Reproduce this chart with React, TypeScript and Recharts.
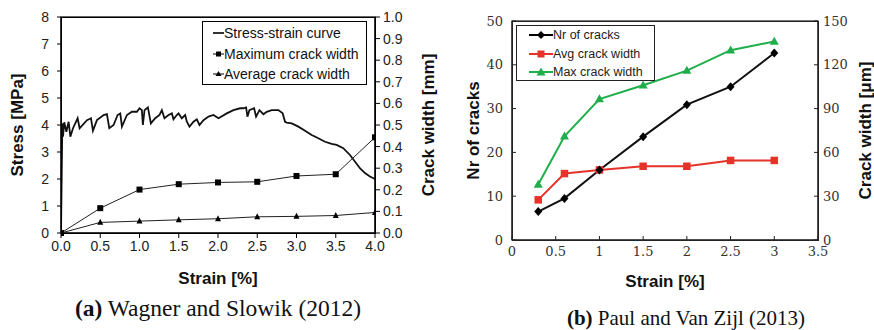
import * as R from "recharts";
import { Legend, Line, LineChart, XAxis, YAxis } from "recharts";

// (a) Wagner and Slowik (2012) - stress-strain curve
const curveStrain = [
  0, 0.017, 0.025, 0.042, 0.068, 0.097, 0.119, 0.153, 0.212, 0.237, 0.331, 0.382, 0.407, 0.458,
  0.543, 0.585, 0.615, 0.67, 0.721, 0.755, 0.776, 0.84, 0.903, 0.967, 1.0, 1.03, 1.043, 1.064,
  1.107, 1.145, 1.2, 1.255, 1.285, 1.318, 1.37, 1.412, 1.433, 1.475, 1.497, 1.539, 1.582, 1.603,
  1.637, 1.688, 1.73, 1.764, 1.815, 1.879, 1.942, 2.006, 2.112, 2.197, 2.282, 2.324, 2.358, 2.375,
  2.4, 2.46, 2.485, 2.528, 2.579, 2.621, 2.684, 2.769, 2.824, 2.854, 2.875, 2.939, 3.024, 3.109,
  3.193, 3.278, 3.363, 3.448, 3.511, 3.596, 3.681, 3.744, 3.808, 3.872, 3.935, 4.0,
];
const curveStress = [
  0, 4.06, 3.57, 4.1, 3.75, 4.12, 3.57, 3.88, 4.25, 3.88, 4.18, 4.25, 3.79, 4.18,
  4.37, 4.4, 3.88, 4.0, 4.37, 4.43, 3.94, 4.37, 4.49, 4.49, 4.62, 4.55, 4.0, 4.55,
  4.65, 4.06, 4.25, 4.37, 4.55, 4.25, 4.37, 4.43, 4.21, 4.37, 4.43, 4.25, 4.37, 4.12,
  3.94, 4.12, 4.21, 4.0, 4.18, 4.31, 4.37, 4.25, 4.43, 4.55, 4.62, 4.62, 4.65, 4.31,
  4.55, 4.62, 4.31, 4.55, 4.4, 4.49, 4.55, 4.55, 4.43, 4.12, 4.09, 4.06, 3.94, 3.79,
  3.63, 3.51, 3.38, 3.3, 3.26, 3.14, 2.89, 2.65, 2.4, 2.22, 2.09, 2.0,
];
const crackStrainA = [0, 0.5, 1, 1.5, 2, 2.5, 3, 3.5, 4];
const maxCrackA = [0, 0.115, 0.201, 0.226, 0.234, 0.237, 0.264, 0.272, 0.443];
const avgCrackA = [0, 0.049, 0.055, 0.061, 0.066, 0.075, 0.077, 0.081, 0.095];
const ticksStrainA = [0, 0.5, 1, 1.5, 2, 2.5, 3, 3.5, 4];
const ticksStress = [0, 1, 2, 3, 4, 5, 6, 7, 8];
const ticksCrackA = [0, 0.1, 0.2, 0.3, 0.4, 0.5, 0.6, 0.7, 0.8, 0.9, 1.0];

// (b) Paul and Van Zijl (2013)
const strainB = [0.3, 0.6, 1, 1.5, 2, 2.5, 3];
const nrCracksB = [6.5, 9.5, 16, 23.6, 30.9, 35, 42.7];
const avgCrackB = [27.5, 45.5, 48, 50.5, 50.5, 54.5, 54.5];
const maxCrackB = [38, 71, 96.5, 106, 116, 130, 136];
const ticksStrainB = [0, 0.5, 1, 1.5, 2, 2.5, 3, 3.5];
const ticksNr = [0, 10, 20, 30, 40, 50];
const ticksCrackB = [0, 30, 60, 90, 120, 150];

const curveData = curveStrain.map((x, i) => ({ x, stress: curveStress[i] }));
const crackDataA = crackStrainA.map((x, i) => ({ x, max: maxCrackA[i], avg: avgCrackA[i] }));
const dataB = strainB.map((x, i) => ({
  x,
  nr: nrCracksB[i],
  avg: avgCrackB[i],
  max: maxCrackB[i],
}));

const RED = "#e5332a";
const GREEN = "#1fae4a";
const SANS = "'Liberation Sans', Arial, sans-serif";
const SERIF = "'DejaVu Serif', serif";

const square = (size: number, color: string) => (p: any) => {
  if (p.cx == null) return <g key={p.key} />;
  return (
    <rect key={p.key} x={p.cx - size / 2} y={p.cy - size / 2} width={size} height={size} fill={color} />
  );
};
const triangle = (w: number, h: number, color: string) => (p: any) => {
  if (p.cx == null) return <g key={p.key} />;
  const { cx, cy } = p;
  return (
    <polygon
      key={p.key}
      points={`${cx},${cy - h * 0.6} ${cx + w / 2},${cy + h * 0.4} ${cx - w / 2},${cy + h * 0.4}`}
      fill={color}
    />
  );
};
const diamond = (w: number, h: number, color: string) => (p: any) => {
  if (p.cx == null) return <g key={p.key} />;
  const { cx, cy } = p;
  return (
    <polygon
      key={p.key}
      points={`${cx},${cy - h / 2} ${cx + w / 2},${cy} ${cx},${cy + h / 2} ${cx - w / 2},${cy}`}
      fill={color}
    />
  );
};

// plot-area frame, sized from the chart's own layout
const usePlot: () => any = (R as any).usePlotArea || (R as any).useOffset || (() => null);
function Frame({ stroke }: { stroke: string }) {
  const pa = usePlot();
  if (!pa) return null;
  const x = pa.x ?? pa.left;
  const y = pa.y ?? pa.top;
  return <rect x={x} y={y} width={pa.width} height={pa.height} fill="none" stroke={stroke} strokeWidth={1.2} />;
}

// rotated axis title at an absolute x, centred on the axis
const yTitle = (text: string, x: number) => (p: any) => {
  const vb = p.viewBox || {};
  const cy = vb.y + vb.height / 2;
  return (
    <text
      x={x}
      y={cy}
      transform={`rotate(-90 ${x} ${cy})`}
      textAnchor="middle"
      dominantBaseline="central"
      fontFamily={SANS}
      fontWeight="bold"
      fontSize={17}
      fill="#111"
    >
      {text}
    </text>
  );
};
const xTitle = (text: string, y: number) => (p: any) => {
  const vb = p.viewBox || {};
  return (
    <text
      x={vb.x + vb.width / 2}
      y={y}
      textAnchor="middle"
      dominantBaseline="central"
      fontFamily={SANS}
      fontWeight="bold"
      fontSize={17}
      fill="#111"
    >
      {text}
    </text>
  );
};

const LegendSample = ({ width, marker }: { width: number; marker: React.ReactNode }) => (
  <svg width={width} height={12} style={{ display: "block", flex: "none" }}>
    {marker}
  </svg>
);

const legendA = () => (
  <div
    style={{
      border: "1px solid #000",
      background: "#fff",
      boxSizing: "border-box",
      width: 165,
      height: 64,
      paddingTop: 1,
      paddingLeft: 10,
      fontFamily: SANS,
      fontSize: 14,
      color: "#111",
    }}
  >
    {[
      { label: "Stress-strain curve", m: null },
      { label: "Maximum crack width", m: <rect x={3} y={3.5} width={5} height={5} fill="#000" /> },
      { label: "Average crack width", m: <polygon points="5.5,3 8.5,8 2.5,8" fill="#000" /> },
    ].map((r) => (
      <div key={r.label} style={{ display: "flex", alignItems: "center", height: 20.5 }}>
        <LegendSample
          width={11}
          marker={
            <>
              <line x1={0} x2={11} y1={6} y2={6} stroke="#000" strokeWidth={r.m ? 1 : 1.6} />
              {r.m}
            </>
          }
        />
        <span style={{ whiteSpace: "nowrap" }}>{r.label}</span>
      </div>
    ))}
  </div>
);

const legendB = () => (
  <div
    style={{
      border: "1px solid #222",
      background: "#fff",
      boxSizing: "border-box",
      width: 139,
      height: 56,
      paddingLeft: 12,
      fontFamily: SANS,
      fontSize: 12.5,
      color: "#222",
    }}
  >
    {[
      { label: "Nr of cracks", c: "#000", m: <polygon points="12,2 16,6 12,10 8,6" fill="#000" /> },
      { label: "Avg crack width", c: RED, m: <rect x={8.5} y={2.5} width={7} height={7} fill={RED} /> },
      { label: "Max crack width", c: GREEN, m: <polygon points="12,1.5 16.5,9.5 7.5,9.5" fill={GREEN} /> },
    ].map((r) => (
      <div key={r.label} style={{ display: "flex", alignItems: "center", height: 18.6 }}>
        <LegendSample
          width={24}
          marker={
            <>
              <line x1={0} x2={24} y1={6} y2={6} stroke={r.c} strokeWidth={2} />
              {r.m}
            </>
          }
        />
        <span style={{ whiteSpace: "nowrap" }}>{r.label}</span>
      </div>
    ))}
  </div>
);

function ChartA() {
  const tickA = { fontFamily: SANS, fontSize: 14, fill: "#222" };
  return (
    <LineChart width={440} height={295} margin={{ top: 17, right: 0, bottom: 0, left: 21 }}>
      <XAxis
        dataKey="x"
        type="number"
        domain={[0, 4]}
        ticks={ticksStrainA}
        tickFormatter={(v) => v.toFixed(1)}
        tick={tickA}
        tickSize={5}
        tickMargin={3}
        height={62}
        stroke="#000"
        allowDataOverflow
        label={xTitle("Strain [%]", 278)}
      />
      <YAxis
        yAxisId="stress"
        domain={[0, 8]}
        ticks={ticksStress}
        tick={tickA}
        tickSize={4}
        tickMargin={8}
        width={40}
        stroke="#000"
        label={yTitle("Stress [MPa]", 17)}
      />
      <YAxis
        yAxisId="crack"
        orientation="right"
        domain={[0, 1]}
        ticks={ticksCrackA}
        tickFormatter={(v) => v.toFixed(1)}
        tick={tickA}
        tickSize={5}
        tickMargin={3}
        width={65}
        stroke="#000"
        label={yTitle("Crack width [mm]", 428)}
      />
      <Frame stroke="#000" />
      <Legend
        layout="horizontal"
        verticalAlign="middle"
        align="center"
        wrapperStyle={{ left: 202, top: 21, width: 165, height: 64 }}
        content={legendA}
      />
      <Line
        data={curveData}
        yAxisId="stress"
        dataKey="stress"
        stroke="#111"
        strokeWidth={1.8}
        dot={false}
        isAnimationActive={false}
      />
      <Line
        data={crackDataA}
        yAxisId="crack"
        dataKey="max"
        stroke="#222"
        strokeWidth={1}
        dot={square(6, "#000")}
        isAnimationActive={false}
      />
      <Line
        data={crackDataA}
        yAxisId="crack"
        dataKey="avg"
        stroke="#222"
        strokeWidth={1}
        dot={triangle(6, 6, "#000")}
        isAnimationActive={false}
      />
    </LineChart>
  );
}

function ChartB() {
  const tickB = { fontFamily: SERIF, fontSize: 13, fill: "#333" };
  return (
    <LineChart width={434} height={290} data={dataB} margin={{ top: 21, right: 0, bottom: 0, left: 22 }}>
      <XAxis
        dataKey="x"
        type="number"
        domain={[0, 3.5]}
        ticks={ticksStrainB}
        tick={tickB}
        tickSize={-4}
        tickMargin={11}
        height={50}
        stroke="#222"
        label={xTitle("Strain [%]", 281)}
      />
      <YAxis
        yAxisId="nr"
        domain={[0, 50]}
        ticks={ticksNr}
        tick={tickB}
        tickSize={-4}
        tickMargin={13}
        width={50}
        stroke="#222"
        label={yTitle("Nr of cracks", 33)}
      />
      <YAxis
        yAxisId="width"
        orientation="right"
        domain={[0, 150]}
        ticks={ticksCrackB}
        tick={tickB}
        tickSize={-4}
        tickMargin={9}
        width={56}
        stroke="#222"
        label={yTitle("Crack width [\u03bcm]", 425)}
      />
      <Frame stroke="#222" />
      <Legend
        layout="horizontal"
        verticalAlign="middle"
        align="center"
        wrapperStyle={{ left: 76, top: 25, width: 139, height: 56 }}
        content={legendB}
      />
      <Line
        yAxisId="width"
        dataKey="max"
        stroke={GREEN}
        strokeWidth={2}
        dot={triangle(9, 8, GREEN)}
        isAnimationActive={false}
      />
      <Line
        yAxisId="width"
        dataKey="avg"
        stroke={RED}
        strokeWidth={2}
        dot={square(7.5, RED)}
        isAnimationActive={false}
      />
      <Line
        yAxisId="nr"
        dataKey="nr"
        stroke="#111"
        strokeWidth={2}
        dot={diamond(8, 9, "#000")}
        isAnimationActive={false}
      />
    </LineChart>
  );
}

// border boxes over the two plot areas (same box as the chart margins + axis widths above)
const frameBox = (left: number, top: number, width: number, height: number, color: string) => (
  <div
    style={{
      position: "absolute",
      left,
      top,
      width,
      height,
      boxSizing: "border-box",
      border: `1px solid ${color}`,
      pointerEvents: "none",
    }}
  />
);

export default function App() {
  const caption = { fontFamily: "'Liberation Serif', 'Times New Roman', serif", color: "#111" };
  return (
    <div style={{ position: "absolute", left: 0, top: 0, width: 874, height: 330, background: "#fff" }}>
      <div style={{ position: "absolute", left: 0, top: 0 }}>
        <ChartA />
      </div>
      <div style={{ position: "absolute", left: 440, top: 0 }}>
        <ChartB />
      </div>
      {frameBox(60.5, 16.5, 315, 217, "#000")}
      {frameBox(511.5, 20.5, 307, 220, "#222")}
      <div style={{ ...caption, fontSize: 23.5, position: "absolute", left: 18, width: 400, top: 295, textAlign: "center" }}>
        <b>(a)</b> Wagner and Slowik (2012)
      </div>
      <div style={{ ...caption, fontSize: 21, position: "absolute", left: 486, width: 400, top: 306, textAlign: "center" }}>
        <b>(b)</b> Paul and Van Zijl (2013)
      </div>
    </div>
  );
}
